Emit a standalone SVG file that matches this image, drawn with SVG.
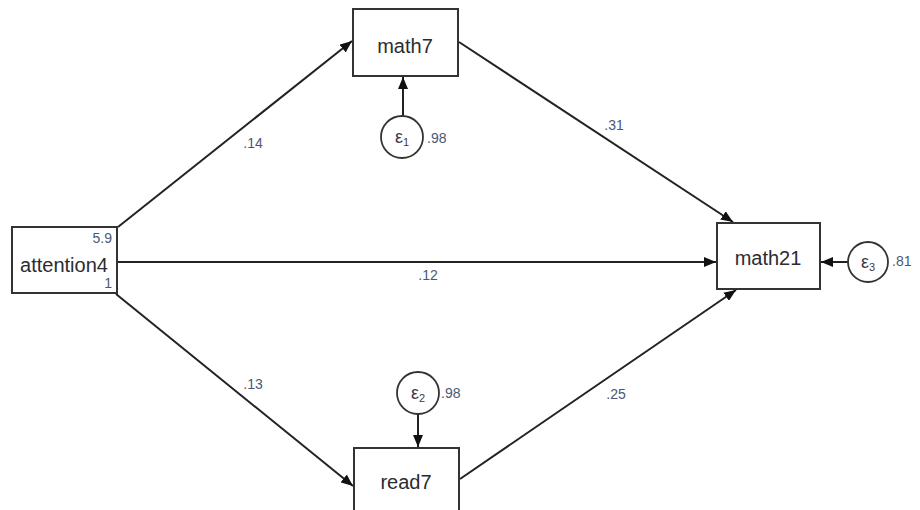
<svg xmlns="http://www.w3.org/2000/svg" width="920" height="510" viewBox="0 0 920 510">
<style>
.box{fill:#fff;stroke:#333;stroke-width:2}
.err{fill:#fff;stroke:#333;stroke-width:1.8}
.nt{font-family:"Liberation Sans",Arial,sans-serif;font-size:20px;fill:#2b2b33;text-anchor:middle}
.lb{font-family:"Liberation Sans",Arial,sans-serif;font-size:14px;fill:#4a5878}
.et{font-family:"Liberation Sans",Arial,sans-serif;font-size:18px;fill:#3a3a44;text-anchor:middle}
.edge{stroke:#222;stroke-width:2;fill:none;marker-end:url(#ah)}
</style>
<defs>
<marker id="ah" viewBox="0 0 12 10" refX="12" refY="5" markerWidth="12" markerHeight="10" markerUnits="userSpaceOnUse" orient="auto">
<path d="M0,0 L12,5 L0,10 z" fill="#111"/>
</marker>
</defs>
<rect width="920" height="510" fill="#fff"/>
<g id="connectors">
<line class="edge" x1="118" y1="227" x2="352" y2="41"/>
<line class="edge" x1="117" y1="262" x2="716" y2="262"/>
<line class="edge" x1="116" y1="294" x2="353" y2="486"/>
<line class="edge" x1="459" y1="42" x2="733" y2="222"/>
<line class="edge" x1="460" y1="479" x2="736" y2="290"/>
<line class="edge" x1="403" y1="116" x2="403" y2="77"/>
<line class="edge" x1="418" y1="414" x2="418" y2="447"/>
<line class="edge" x1="848" y1="262" x2="821" y2="262"/>
<text class="lb" x="253" y="148" text-anchor="middle">.14</text>
<text class="lb" x="614" y="130" text-anchor="middle">.31</text>
<text class="lb" x="428" y="280" text-anchor="middle">.12</text>
<text class="lb" x="253" y="389" text-anchor="middle">.13</text>
<text class="lb" x="616" y="399" text-anchor="middle">.25</text>
</g>
<g id="attention4">
<rect class="box" x="12" y="227" width="105" height="66"/>
<text class="nt" x="64" y="272">attention4</text>
<text class="lb" x="112" y="243" text-anchor="end">5.9</text>
<text class="lb" x="112" y="288" text-anchor="end">1</text>
</g>
<g id="math7">
<rect class="box" x="353" y="9" width="105" height="67"/>
<text class="nt" x="405" y="53">math7</text>
</g>
<g id="read7">
<rect class="box" x="354" y="448" width="105" height="68"/>
<text class="nt" x="406" y="489">read7</text>
</g>
<g id="math21">
<rect class="box" x="717" y="223" width="103" height="66"/>
<text class="nt" x="768" y="265">math21</text>
</g>
<g id="e1">
<circle class="err" cx="402" cy="137" r="21"/>
<text class="et" x="402" y="143">ε<tspan font-size="11" dy="3">1</tspan></text>
<text class="lb" x="427" y="143">.98</text>
</g>
<g id="e2">
<circle class="err" cx="418" cy="393" r="21"/>
<text class="et" x="418" y="399">ε<tspan font-size="11" dy="3">2</tspan></text>
<text class="lb" x="441" y="398">.98</text>
</g>
<g id="e3">
<circle class="err" cx="868" cy="262" r="20"/>
<text class="et" x="868" y="268">ε<tspan font-size="11" dy="3">3</tspan></text>
<text class="lb" x="892" y="266">.81</text>
</g>
</svg>
